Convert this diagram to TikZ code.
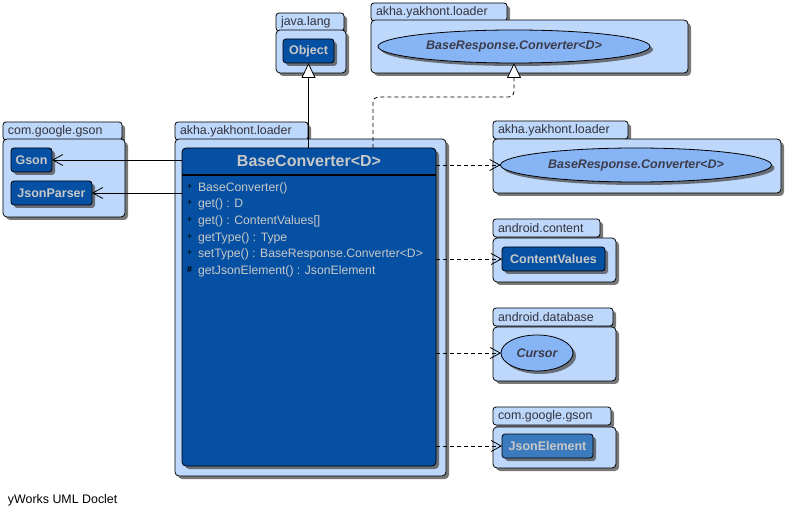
\documentclass[tikz,border=0pt]{standalone}
\usepackage{fontspec}
\setmainfont{Liberation Sans}
\usetikzlibrary{calc,shadows,shapes.geometric,arrows.meta}

\definecolor{pkgfill}{RGB}{190,216,252}
\definecolor{pkgtext}{RGB}{50,50,60}
\definecolor{clsfill}{RGB}{5,80,162}
\definecolor{clstext}{RGB}{200,200,200}
\definecolor{ifcfill}{RGB}{135,180,245}
\definecolor{ifctext}{RGB}{60,60,75}
\definecolor{jelfill}{RGB}{60,122,190}

\newcommand{\pkgfont}{\fontsize{12.4pt}{14pt}\selectfont}
\newcommand{\clsfont}{\fontsize{12.5pt}{14pt}\selectfont\bfseries}
\newcommand{\ttlfont}{\fontsize{16pt}{18pt}\selectfont\bfseries}
\newcommand{\mbrfont}{\fontsize{12.2pt}{16.6pt}\selectfont}
\newcommand{\mrk}[1]{\makebox[11pt][l]{\raisebox{2pt}{\textcolor{black}{\fontsize{9pt}{9pt}\selectfont #1}}}}

\begin{document}
\begin{tikzpicture}[x=1pt,y=-1pt,inner sep=0pt,outer sep=0pt,line width=0.8pt,
    shade/.style={drop shadow={shadow xshift=3pt,shadow yshift=-3pt,fill=black!70,opacity=.75}},
    pkgtab/.style={shade,draw,fill=pkgfill,rounded corners=3pt,anchor=north west,
        minimum height=18pt,inner xsep=5pt,align=left,text=pkgtext,font=\pkgfont},
    pkgbody/.style={shade,draw,fill=pkgfill,rounded corners=4pt,anchor=north west},
    cls/.style={shade,draw,fill=clsfill,rounded corners=3pt,anchor=north west,
        minimum height=24pt,text=clstext,font=\clsfont},
    ifc/.style={shade,draw,ellipse,fill=ifcfill,text=ifctext,font=\clsfont\itshape},
    assoc/.style={-{Straight Barb[length=10pt,width=11pt]}},
    dep/.style={dash pattern=on 4pt off 3pt,-{Straight Barb[length=10pt,width=11pt]}},
    gen/.style={-{Triangle[open,length=15pt,width=14pt,fill=white]}}]

    \useasboundingbox (0,0) rectangle (787,518);

    % java.lang
    \node[pkgtab,text width=58pt] (jl_tab) at (276,13) {java.lang};
    \node[pkgbody,minimum width=70pt,minimum height=43pt] (jl_pkg) at (276,30) {};
    \node[cls,minimum width=51pt] (obj) at (283,39) {Object};

    % akha.yakhont.loader (top)
    \node[pkgtab,text width=126pt] (ayl_top_tab) at (371,3) {akha.yakhont.loader};
    \node[pkgbody,minimum width=317pt,minimum height=53pt] (ayl_top_pkg) at (371,20) {};
    \node[ifc,minimum width=272pt,minimum height=33pt] (conv_top) at (514,46.5) {BaseResponse.Converter<D>};

    % com.google.gson (left)
    \node[pkgtab,text width=109pt] (cgg_left_tab) at (3,122) {com.google.gson};
    \node[pkgbody,minimum width=122pt,minimum height=78pt] (cgg_left_pkg) at (3,139) {};
    \node[cls,minimum width=41pt] (gson) at (11,148) {Gson};
    \node[cls,minimum width=81pt] (jparser) at (11,181) {JsonParser};

    % akha.yakhont.loader (main)
    \node[pkgtab,text width=123pt] (main_tab) at (175,122) {akha.yakhont.loader};
    \node[pkgbody,minimum width=271pt,minimum height=337pt] (main_pkg) at (175,139) {};
    \node[shade,draw,fill=clsfill,rounded corners=4pt,anchor=north west,
        minimum width=254pt,minimum height=318pt] (main_cls) at (182,148) {};
    \node[font=\ttlfont,text=clstext] (main_ttl) at ($(main_cls.north)+(0,-13pt)$) {BaseConverter<D>};
    \draw[line width=1.6pt] ($(main_cls.north west)+(0,-27pt)$) -- ($(main_cls.north east)+(0,-27pt)$);
    \node[anchor=north west,text=clstext,font=\mbrfont,align=left] (main_mbr) at (187,182.5)
    {
    \mrk{+}BaseConverter()\\
    \mrk{+}get() : D\\
    \mrk{+}get() : ContentValues[]\\
    \mrk{+}getType() : Type\\
    \mrk{+}setType() : BaseResponse.Converter<D>\\
    \mrk{\textbf{\#}}getJsonElement() : JsonElement
    };

    % akha.yakhont.loader (right)
    \node[pkgtab,text width=125pt] (ayl_right_tab) at (493,121) {akha.yakhont.loader};
    \node[pkgbody,minimum width=288pt,minimum height=54pt] (ayl_right_pkg) at (493,139) {};
    \node[ifc,minimum width=271pt,minimum height=34pt] (conv_right) at (636,165) {BaseResponse.Converter<D>};

    % android.content
    \node[pkgtab,text width=97pt] (ac_tab) at (493,219) {android.content};
    \node[pkgbody,minimum width=123pt,minimum height=44pt] (ac_pkg) at (493,238) {};
    \node[cls,minimum width=103pt] (cvalues) at (502,247) {ContentValues};

    % android.database
    \node[pkgtab,text width=110pt] (ad_tab) at (493,308) {android.database};
    \node[pkgbody,minimum width=123pt,minimum height=54pt] (ad_pkg) at (493,327) {};
    \node[ifc,minimum width=72pt,minimum height=36pt] (cursor) at (537,353) {Cursor};

    % com.google.gson (right)
    \node[pkgtab,text width=108pt] (cgg_right_tab) at (493,407) {com.google.gson};
    \node[pkgbody,minimum width=123pt,minimum height=41pt] (cgg_right_pkg) at (493,427) {};
    \node[cls,fill=jelfill,minimum width=91pt] (jelem) at (502,434) {JsonElement};

    % associations
    \draw[assoc] (main_cls.west |- gson.east) -- (gson.east);
    \draw[assoc] (main_cls.west |- jparser.east) -- (jparser.east);

    % generalization / realization
    \draw[gen] (main_cls.north -| obj.south) -- (obj.south);
    \draw[gen,dash pattern=on 4pt off 3pt,rounded corners=5pt]
        ($(main_cls.north)+(64pt,0)$) -- ++(0,-51) -| (conv_top.south);

    % dependencies
    \draw[dep] (main_cls.east |- conv_right.west) -- (conv_right.west);
    \draw[dep] (main_cls.east |- cvalues.west) -- (cvalues.west);
    \draw[dep] (main_cls.east |- cursor.west) -- (cursor.west);
    \draw[dep] (main_cls.east |- jelem.west) -- (jelem.west);

    \node[anchor=west,font=\pkgfont] (doclet) at (8,500) {yWorks UML Doclet};
\end{tikzpicture}
\end{document}
